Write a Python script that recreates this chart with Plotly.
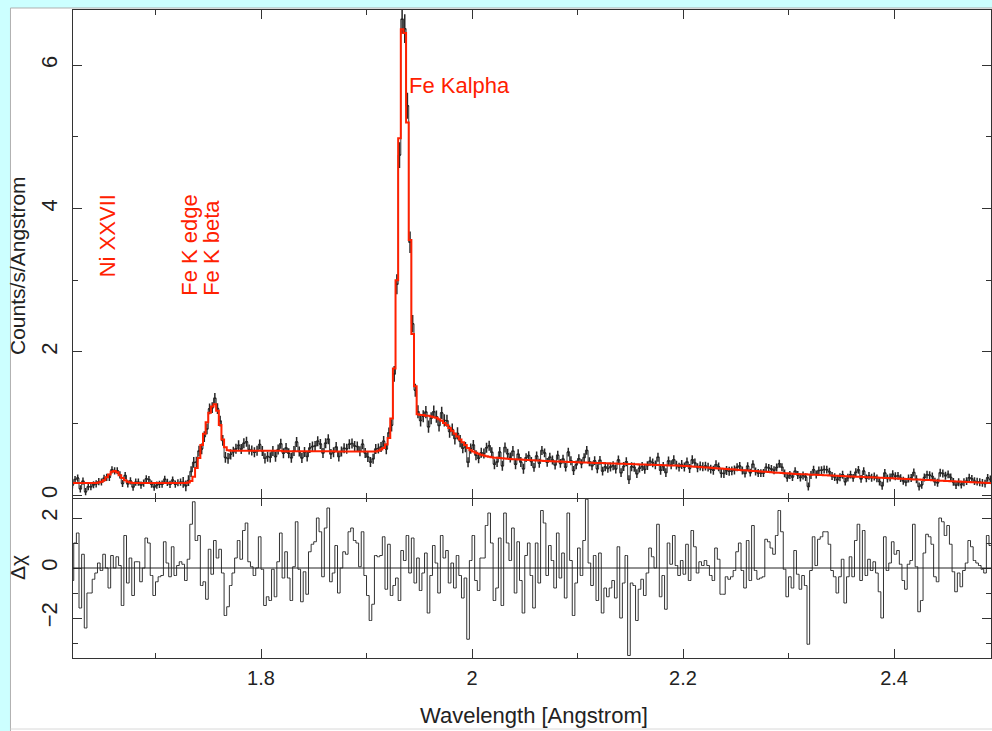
import plotly.graph_objects as go

# ---------------- data ----------------
WL_START = 1.620      # lower edge of first wavelength bin [Angstrom]
BIN_WIDTH = 0.0025    # bin width [Angstrom]

# best-fit model, counts/s/Angstrom, one value per bin
MODEL = [
    0.17, 0.17, 0.17, 0.17, 0.17, 0.17, 0.17, 0.17, 0.17, 0.17,
    0.18, 0.19, 0.21, 0.25, 0.29, 0.33, 0.34, 0.32, 0.28, 0.24, 0.21, 0.19, 0.18,
    0.17, 0.17, 0.17, 0.17, 0.17, 0.17, 0.17, 0.17, 0.17, 0.17,
    0.17, 0.17, 0.17, 0.17, 0.17, 0.17, 0.17, 0.17, 0.17,
    0.17, 0.17, 0.18, 0.20, 0.26, 0.38, 0.52, 0.70, 0.86, 1.02,
    1.15, 1.24, 1.27, 1.18, 0.98, 0.78, 0.67, 0.63,
    0.62, 0.62, 0.62, 0.62, 0.62, 0.62, 0.62, 0.62, 0.62, 0.62,
    0.62, 0.62, 0.62, 0.62, 0.62, 0.62, 0.62, 0.62, 0.62, 0.62,
    0.615, 0.615, 0.615, 0.615, 0.615, 0.615, 0.615, 0.615, 0.615, 0.615,
    0.615, 0.615, 0.615, 0.615, 0.615, 0.615, 0.615, 0.615, 0.615, 0.615,
    0.61, 0.61, 0.61, 0.61, 0.61, 0.61, 0.61, 0.61,
    0.61, 0.61, 0.61, 0.61, 0.61, 0.61, 0.61, 0.61,
    0.62, 0.64, 0.66, 0.71, 0.80, 1.07, 1.77, 3.00, 4.98, 6.50,
    6.45, 5.20, 3.56, 2.25, 1.52, 1.13,
    1.12, 1.12, 1.11, 1.11, 1.10, 1.09, 1.08, 1.06, 1.04, 1.01,
    0.98, 0.94, 0.90, 0.86, 0.82, 0.78, 0.74, 0.70, 0.66, 0.63,
    0.61, 0.595, 0.58, 0.565, 0.555, 0.545, 0.537, 0.53, 0.525,
    0.522, 0.519, 0.516, 0.513, 0.51, 0.507, 0.504, 0.502, 0.50,
    0.498, 0.496, 0.494, 0.492, 0.49, 0.488, 0.486, 0.484, 0.482, 0.48, 0.478, 0.476,
    0.474, 0.472, 0.471, 0.47, 0.468, 0.467, 0.466, 0.464, 0.463, 0.462,
    0.46, 0.459, 0.458, 0.456, 0.455, 0.454, 0.452, 0.451, 0.45,
    0.449, 0.447, 0.446, 0.445, 0.444, 0.442, 0.441, 0.44, 0.439, 0.437,
    0.436, 0.435, 0.434, 0.432, 0.431, 0.43, 0.429, 0.427, 0.426, 0.425,
    0.424, 0.422, 0.421, 0.42, 0.419, 0.417, 0.416, 0.415, 0.414, 0.412,
    0.411, 0.41,
    0.407, 0.405, 0.402, 0.399, 0.397, 0.394, 0.391, 0.389, 0.386, 0.383,
    0.381, 0.378, 0.375, 0.372, 0.37, 0.367, 0.364, 0.362, 0.359, 0.356,
    0.354, 0.351, 0.348, 0.346, 0.343, 0.34, 0.338, 0.335, 0.332, 0.33,
    0.327, 0.324, 0.322, 0.319, 0.316, 0.314, 0.311, 0.308, 0.306, 0.303,
    0.30,
    0.298, 0.297, 0.295, 0.293, 0.292, 0.29, 0.288, 0.287, 0.285, 0.283,
    0.282, 0.28, 0.278, 0.277, 0.275, 0.273, 0.272, 0.27, 0.268, 0.267,
    0.265, 0.263, 0.262, 0.26, 0.258, 0.257, 0.255, 0.253, 0.252, 0.25,
    0.248, 0.247, 0.245, 0.243, 0.242, 0.24, 0.238, 0.237, 0.235,
    0.233, 0.231, 0.23, 0.228, 0.226, 0.224, 0.222, 0.221, 0.219, 0.217,
    0.215, 0.213, 0.212, 0.21, 0.208, 0.206, 0.204, 0.203, 0.201, 0.199,
    0.197, 0.195, 0.194, 0.192, 0.19, 0.188, 0.186, 0.185, 0.183, 0.181,
    0.179, 0.177, 0.176, 0.174, 0.172, 0.17, 0.168,
]

# residuals (data - model) / error, one value per bin
RESID_1 = [
    -0.5, 1.0, 1.4, -1.6, 0.55, -2.4, -1.0, -1.0, -0.45, -0.2,
    0.2, -0.1, 0.55, 0.0, -0.8, 0.5, 0.0, 0.45, 0.1, -1.5,
    1.3, -0.6, 0.4, -1.1, 0.25, 0.25, -0.55, 0.0, 1.2, 1.0,
    -0.3, -1.1, -0.55, -0.35, -0.3, 1.05, 0.2, -0.35, 0.85, -0.3,
    0.1, 0.25, 0.15, -0.5, 0.35, 1.75, 2.65, 1.1, 1.3, -0.7,
    -0.55, -1.25, 0.75, -0.25, 1.1, 0.4, 0.75, -0.2, -1.9, -1.55,
    -0.7, -0.2,
]
RESID_2 = [
    0.4, 1.1, 0.35, 1.5, 1.8, 0.25, 0.05, -0.3, 0.0, 1.25,
    -0.05, -1.5, -1.15, -1.3, -0.05, -1.15, 0.25, 1.4, -0.4, 0.65,
    -0.4, -1.3, 0.05, 1.85, -0.05, -1.35, -0.15, -1.05, 0.65, 0.95,
    1.05, 2.0, 1.45, -0.35, 1.6, 2.4, -0.55, -0.2, 0.9, -1.0,
    0.0, 0.65, 0.55, 1.45, 1.6, 1.1, 1.0, 0.05, 1.45, -0.3,
    -1.1, -2.1, -1.45, 0.5, 0.45, 0.5, 1.25, -0.85, 0.95, -1.1,
    -0.7,
]
RESID_3 = [
    -0.4, -1.3, 0.7, 0.3, 1.3, -0.2, 1.2, -0.6, 0.4, -0.9,
    -0.2, 0.6, -1.8, -0.3, 0.9, 0.2, -1.0, 1.3, 0.4, 0.7,
    -0.6, 0.2, -0.8, 0.5, -0.3, -1.2, -0.4, -2.85, 0.3, 1.3,
    -0.5, -0.9, 0.4, 0.4, 1.7, 2.2, 1.0, -1.3, -0.8, 1.2,
    -1.5, 2.2, 1.0, 0.3, 1.6, -1.0, 1.05, -0.5, -1.8, 0.5,
    1.0, -0.3, -1.6, 1.0, -0.6, 2.3, 1.8, -0.3, 0.9, 0.3,
    -0.8, 1.4, -0.4, 0.6, -1.2, 2.2, 0.3, -1.9, -0.6, 0.8,
    -0.3, 1.1, 2.75, 0.2, -0.7, 0.5, -1.3, 0.6,
]
RESID_4 = [
    -1.8, -0.8, -1.15, -0.8, -0.5, -1.2, 0.85, -2.0, -0.6, 0.5,
    -3.5, -0.6, -0.7, -2.1, -0.85, -0.45, -1.1, -0.2, 0.8, 0.45,
    0.0, 1.75, -1.15, -0.3, -1.65, 1.0, 0.15, 1.3, 0.1, -0.3,
    0.3, -0.25, 0.95, -0.5, 1.5, 0.85, -0.2, 0.25, 0.1, 0.3,
    0.1, -0.3, -0.5, 0.8, 0.35, -1.05, -1.05, -0.35, -0.45, -0.35,
    -0.1, 0.65, 1.0, -0.1, -0.8, 1.1, -0.5, 1.7, -0.1, -0.45,
    -0.4, -0.35, 1.15, 1.05, 0.8, 0.55, 1.3, 2.3, 1.45, -0.05,
    -1.15, -0.35, -0.8, 0.7, -0.25, -0.85, -0.3, -0.7, -3.05, -0.1,
    1.25, 0.1, 1.15, 1.25, 1.45, 1.45, 0.95, -0.1, -0.35, -1.0,
    -0.35, 0.35, -1.4, -0.35, 0.45, -0.35, 1.1, 1.75, -0.5, 1.5,
    -0.3, 0.35, -0.1, 0.25, -0.2, -0.95, -2.0, 1.25, -0.1, 0.2,
    1.05, 0.55, 0.7, 0.15, -0.5, -0.85, 0.15, 0.3, 1.75, 0.05,
    -1.75, -1.3, 0.6, 1.35, 1.25, 0.95, -0.35, -0.55, 2.0, 1.85,
    1.3, 1.7, 0.95, -0.15, -0.95, -0.2, -0.75, -0.1, 0.2, 1.1,
    0.85, 0.3, 0.2, 0.1, -0.05, -0.2, 1.3, 0.9, 0.9,
]
RESID = RESID_1 + RESID_2 + RESID_3 + RESID_4

# 1-sigma error of the data, by wavelength range (upper limit of range, sigma)
ERR_UPPER = [1.725, 1.77, 1.915, 1.9225, 1.925, 1.9275, 1.930, 1.9325, 1.9375,
             1.940, 1.9425, 1.945, 1.95, 1.99, 2.05, 2.25, 2.60]
ERR_SIGMA = [0.050, 0.075, 0.070, 0.075, 0.085, 0.11, 0.14, 0.18, 0.20,
             0.18, 0.15, 0.12, 0.09, 0.085, 0.07, 0.062, 0.055]

LINE_LABELS = ["Ni XXVII", "Fe K edge", "Fe K beta", "Fe Kalpha"]
X_TITLE = "Wavelength [Angstrom]"
Y_TITLE = "Counts/s/Angstrom"
R_TITLE = "Δχ"

# ---------------- derived arrays ----------------
n = len(MODEL)
wl = [WL_START + BIN_WIDTH * (i + 0.5) for i in range(n)]


def sigma_for(w):
    for up, s in zip(ERR_UPPER, ERR_SIGMA):
        if w < up:
            return s
    return ERR_SIGMA[-1]


err = [sigma_for(w) for w in wl]
data = [m + r * e for m, r, e in zip(MODEL, RESID[:n], err)]

# ---------------- figure ----------------
FONT = "Liberation Sans, Arial, Helvetica, sans-serif"
INK = "#222222"
RED = "#ff2000"
DATA_INK = "#262626"

fig = go.Figure()
# thin step through the data values (joins the crosses like the original)
fig.add_trace(go.Scatter(
    x=wl, y=data, mode="lines", xaxis="x2", yaxis="y2",
    line=dict(color="#3a3a3a", width=1, shape="hvh"),
    hoverinfo="skip", showlegend=False))
fig.add_trace(go.Scatter(
    x=wl, y=data, mode="markers", xaxis="x2", yaxis="y2",
    marker=dict(size=1, color=DATA_INK),
    error_y=dict(type="data", array=err, visible=True, thickness=1.5, width=0, color=DATA_INK),
    error_x=dict(type="constant", value=BIN_WIDTH / 2, visible=True, thickness=1.5, width=0, color=DATA_INK),
    hoverinfo="skip", showlegend=False))
fig.add_trace(go.Scatter(
    x=wl, y=MODEL, mode="lines", xaxis="x2", yaxis="y2",
    line=dict(color=RED, width=2, shape="hvh"), showlegend=False))
fig.add_trace(go.Scatter(
    x=wl, y=RESID[:n], mode="lines", xaxis="x", yaxis="y",
    line=dict(color="#333333", width=1, shape="hvh"), showlegend=False))

X_RANGE = [1.6218, 2.4919]
SPLIT = 161 / 648
LW = 1.3

axis_common = dict(
    showline=True, linecolor="#333333", linewidth=LW, mirror="allticks",
    ticks="inside", ticklen=9, tickwidth=1.2, tickcolor="#333333",
    showgrid=False, zeroline=False,
    tickfont=dict(family=FONT, size=20, color=INK),
    minor=dict(ticks="inside", ticklen=5, tickwidth=1.2, tickcolor="#333333", showgrid=False),
)

fig.update_layout(
    width=992, height=731,
    margin=dict(l=73, r=1, t=10, b=73),
    paper_bgcolor="white", plot_bgcolor="white",
    showlegend=False,
    font=dict(family=FONT, color=INK),
    xaxis=dict(axis_common, domain=[0, 1], anchor="y", range=X_RANGE,
               tickmode="linear", tick0=0, dtick=0.2, ticklabelstandoff=2,
               minor=dict(axis_common["minor"], dtick=0.1, tick0=0)),
    xaxis2=dict(axis_common, domain=[0, 1], anchor="y2", matches="x", range=X_RANGE,
                tickmode="linear", tick0=0, dtick=0.2, showticklabels=False,
                minor=dict(axis_common["minor"], dtick=0.1, tick0=0)),
    yaxis=dict(axis_common, domain=[0, SPLIT], anchor="x", range=[-3.6, 2.84],
               tickmode="linear", tick0=0, dtick=2, tickangle=-90, ticklabelstandoff=6,
               tickfont=dict(family=FONT, size=22, color=INK),
               minor=dict(axis_common["minor"], dtick=1, tick0=0)),
    yaxis2=dict(axis_common, domain=[SPLIT - LW / 648, 1], anchor="x2", range=[-0.042, 6.77],
                tickmode="linear", tick0=0, dtick=2, tickangle=-90, ticklabelstandoff=6,
                tickfont=dict(family=FONT, size=22, color=INK),
                minor=dict(axis_common["minor"], dtick=1, tick0=0)),
)

# zero line in residual panel
fig.add_shape(type="line", xref="x domain", yref="y", x0=0, x1=1, y0=0, y1=0,
              line=dict(color="#222222", width=1))

# page frame: cyan strips and thin grey border (outside the plot area)
CYAN = "#ccffff"
fig.add_shape(type="rect", xref="paper", yref="paper", x0=-0.0796, x1=-0.0686,
              y0=-0.1127, y1=1.0155, fillcolor=CYAN, line=dict(width=0), layer="below")
fig.add_shape(type="rect", xref="paper", yref="paper", x0=-0.0796, x1=1.0011,
              y0=1.0031, y1=1.0155, fillcolor=CYAN, line=dict(width=0), layer="below")
fig.add_shape(type="line", xref="paper", yref="paper", x0=-0.0681, x1=-0.0681,
              y0=-0.1127, y1=1.0031, line=dict(color="#b0b0b0", width=1))
fig.add_shape(type="line", xref="paper", yref="paper", x0=-0.0681, x1=1.0011,
              y0=1.0031, y1=1.0031, line=dict(color="#b0b0b0", width=1))
fig.add_shape(type="line", xref="paper", yref="paper", x0=-0.0681, x1=1.0011,
              y0=-0.1096, y1=-0.1096, line=dict(color="#d8d8d8", width=1))

# axis titles
fig.add_annotation(text=Y_TITLE, xref="paper", yref="paper", x=-0.0599, y=0.605,
                   textangle=-90, showarrow=False, xanchor="center", yanchor="middle",
                   font=dict(family=FONT, size=21, color=INK))
fig.add_annotation(text=R_TITLE, xref="paper", yref="paper", x=-0.0599, y=0.139,
                   textangle=-90, showarrow=False, xanchor="center", yanchor="middle",
                   font=dict(family=FONT, size=21, color=INK))
fig.add_annotation(text=X_TITLE, xref="paper", yref="paper", x=0.5022, y=-0.0895,
                   showarrow=False, xanchor="center", yanchor="middle",
                   font=dict(family=FONT, size=22, color=INK))

# line labels (red)
lab_font = dict(family=FONT, size=22, color=RED)
fig.add_annotation(text=LINE_LABELS[0], xref="x2", yref="y2", x=1.654, y=3.02,
                   textangle=-90, showarrow=False, xanchor="center", yanchor="bottom", font=lab_font)
fig.add_annotation(text=LINE_LABELS[1], xref="x2", yref="y2", x=1.7327, y=2.755,
                   textangle=-90, showarrow=False, xanchor="center", yanchor="bottom", font=lab_font)
fig.add_annotation(text=LINE_LABELS[2], xref="x2", yref="y2", x=1.7536, y=2.755,
                   textangle=-90, showarrow=False, xanchor="center", yanchor="bottom", font=lab_font)
fig.add_annotation(text=LINE_LABELS[3], xref="x2", yref="y2", x=1.9385, y=5.72,
                   showarrow=False, xanchor="left", yanchor="middle", font=lab_font)

fig.write_html(
    "out.html",
    config={"displayModeBar": False},
    post_script="document.body.style.margin='0px';document.body.style.padding='0px';"
                "document.body.style.overflow='hidden';",
)
